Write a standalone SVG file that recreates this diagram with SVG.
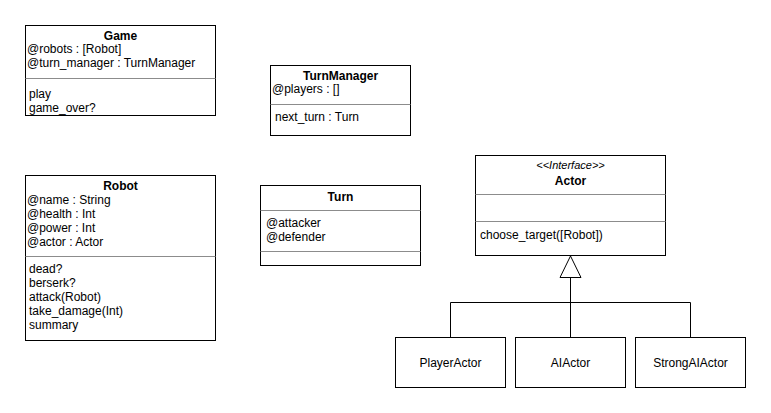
<svg xmlns="http://www.w3.org/2000/svg" width="771" height="413" viewBox="0 0 771 413">
<style>
text{font-family:"Liberation Sans",Arial,sans-serif;font-size:12px;fill:#000}
.t{font-weight:bold;text-anchor:middle}
.c{text-anchor:middle}
.i{font-style:italic;text-anchor:middle;font-size:11px}
.box{fill:#fff;stroke:#000;stroke-width:1}
.div{stroke:#8c8c8c;stroke-width:1}
.ln{fill:none;stroke:#000;stroke-width:1}
</style>
<rect width="771" height="413" fill="#fff"/>
<g id="Game">
<rect class="box" x="25.5" y="25.5" width="190" height="90"/>
<line class="div" x1="25.5" y1="78.5" x2="215.5" y2="78.5"/>
<text class="t" x="120.5" y="40">Game</text>
<text x="27" y="53">@robots : [Robot]</text>
<text x="27" y="67">@turn_manager : TurnManager</text>
<text x="29" y="97.5">play</text>
<text x="29" y="111.5">game_over?</text>
</g>
<g id="TurnManager">
<rect class="box" x="270.5" y="65.5" width="140" height="70"/>
<line class="div" x1="270.5" y1="104.5" x2="410.5" y2="104.5"/>
<text class="t" x="340.5" y="80">TurnManager</text>
<text x="272" y="93">@players : []</text>
<text x="275" y="121">next_turn : Turn</text>
</g>
<g id="Robot">
<rect class="box" x="25.5" y="175.5" width="190" height="165"/>
<line class="div" x1="25.5" y1="256.5" x2="215.5" y2="256.5"/>
<text class="t" x="120.5" y="190">Robot</text>
<text x="27" y="204">@name : String</text>
<text x="27" y="218">@health : Int</text>
<text x="27" y="232">@power : Int</text>
<text x="27" y="246">@actor : Actor</text>
<text x="29" y="273">dead?</text>
<text x="29" y="287">berserk?</text>
<text x="29" y="301">attack(Robot)</text>
<text x="29" y="315">take_damage(Int)</text>
<text x="29" y="329">summary</text>
</g>
<g id="Turn">
<rect class="box" x="260.5" y="185.5" width="160" height="80"/>
<line class="div" x1="260.5" y1="210.5" x2="420.5" y2="210.5"/>
<line class="div" x1="260.5" y1="251.5" x2="420.5" y2="251.5"/>
<text class="t" x="340.5" y="201">Turn</text>
<text x="266" y="227">@attacker</text>
<text x="266" y="241">@defender</text>
</g>
<g id="Actor">
<rect class="box" x="475.5" y="155.5" width="190" height="100"/>
<line class="div" x1="475.5" y1="194.5" x2="665.5" y2="194.5"/>
<line class="div" x1="475.5" y1="221.5" x2="665.5" y2="221.5"/>
<text class="i" x="570.5" y="169">&lt;&lt;Interface&gt;&gt;</text>
<text class="t" x="570.5" y="185">Actor</text>
<text x="480" y="239">choose_target([Robot])</text>
</g>
<g id="PlayerActor">
<rect class="box" x="395.5" y="337.5" width="110" height="50"/>
<text class="c" x="450.5" y="367">PlayerActor</text>
</g>
<g id="AIActor">
<rect class="box" x="515.5" y="337.5" width="110" height="50"/>
<text class="c" x="570.5" y="367">AIActor</text>
</g>
<g id="StrongAIActor">
<rect class="box" x="635.5" y="337.5" width="110" height="50"/>
<text class="c" x="690.5" y="367">StrongAIActor</text>
</g>
<g id="connectors">
<path class="ln" d="M450.5 337.5 V302.5 H690.5 V337.5"/>
<path class="ln" d="M570.5 337.5 V277.5"/>
<path d="M570.5 256 L581 277.5 L560 277.5 Z" fill="#fff" stroke="#000" stroke-width="1"/>
</g>
</svg>
